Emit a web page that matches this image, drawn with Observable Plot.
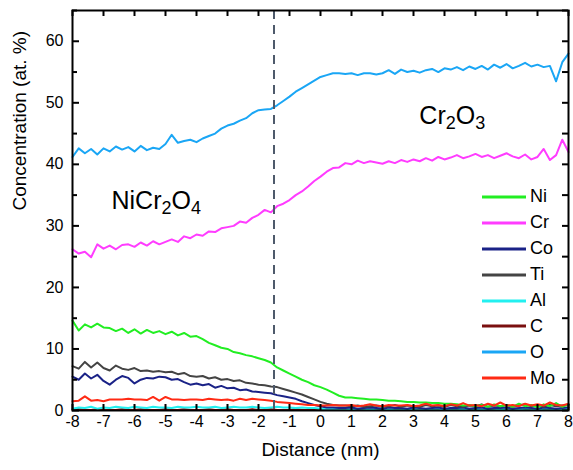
<!DOCTYPE html>
<html>
<head>
<meta charset="utf-8">
<script src="https://cdn.jsdelivr.net/npm/d3@7"></script>
<script src="https://cdn.jsdelivr.net/npm/@observablehq/plot@0.6"></script>
<style>
  html, body { margin: 0; padding: 0; background: white; }
  #wrap { position: relative; width: 573px; height: 470px; font-family: "Liberation Sans", Arial, sans-serif; }
  #legend { position: absolute; left: 482px; top: 184px; font-size: 18px; color: black; }
  #legend .row { height: 25.9px; display: flex; align-items: center; }
  #legend svg { width: 44px; height: 6px; margin-right: 4px; }
</style>
</head>
<body>
<div id="wrap"><div id="legend"></div></div>
<script>
// ---- Data ----
const distance = [
  -8.0,-7.8,-7.6,-7.4,-7.2,-7.0,-6.8,-6.6,-6.4,-6.2,
  -6.0,-5.8,-5.6,-5.4,-5.2,-5.0,-4.8,-4.6,-4.4,-4.2,
  -4.0,-3.8,-3.6,-3.4,-3.2,-3.0,-2.8,-2.6,-2.4,-2.2,
  -2.0,-1.8,-1.6,-1.4,-1.2,-1.0,-0.8,-0.6,-0.4,-0.2,
   0.0, 0.2, 0.4, 0.6, 0.8, 1.0, 1.2, 1.4, 1.6, 1.8,
   2.0, 2.2, 2.4, 2.6, 2.8, 3.0, 3.2, 3.4, 3.6, 3.8,
   4.0, 4.2, 4.4, 4.6, 4.8, 5.0, 5.2, 5.4, 5.6, 5.8,
   6.0, 6.2, 6.4, 6.6, 6.8, 7.0, 7.2, 7.4, 7.6, 7.8,
   8.0
];
const O = [
  41.2,42.6,41.8,42.5,41.6,42.6,42.1,42.9,42.4,42.8,
  42.1,43.0,42.3,42.7,42.5,43.3,44.8,43.5,43.8,44.0,
  43.6,44.2,44.6,45.0,45.8,46.3,46.6,47.1,47.5,48.3,
  48.8,48.9,49.0,49.6,50.3,51.0,51.8,52.4,53.0,53.6,
  54.2,54.5,54.8,54.8,54.7,54.8,54.5,54.8,54.8,54.6,
  54.8,55.3,54.7,55.4,55.0,55.2,54.9,55.3,55.5,55.0,
  55.6,55.4,55.8,55.3,55.9,55.5,56.0,55.4,56.2,55.7,
  56.3,55.6,56.0,56.5,55.9,56.2,55.8,56.0,53.5,56.6,
  58.0
];
const Cr = [
  26.2,25.5,25.8,24.9,27.0,26.3,26.8,26.2,26.9,27.0,
  26.6,27.3,26.8,27.5,27.0,27.4,27.8,27.4,28.3,28.0,
  28.6,28.4,29.1,29.0,29.6,29.8,30.0,30.7,30.5,31.3,
  31.8,32.6,32.2,33.2,33.6,34.2,35.0,35.6,36.4,37.3,
  38.0,38.8,39.4,39.5,40.2,40.0,40.6,40.2,40.5,40.3,
  40.1,40.5,40.2,40.7,40.4,40.8,40.5,41.0,40.6,41.2,
  40.8,41.1,41.5,41.0,41.3,41.7,41.2,41.5,41.0,41.4,
  41.8,41.3,41.0,41.6,40.8,41.2,42.5,40.7,41.5,44.0,
  42.0
];
const Ni = [
  14.6,13.0,14.0,13.5,14.1,13.5,13.4,12.9,13.3,12.6,
  13.2,12.5,13.1,12.6,12.9,12.4,12.8,12.2,12.6,12.0,
  12.1,11.6,11.0,10.6,10.2,10.0,9.5,9.3,9.0,8.8,
  8.5,8.2,7.8,7.0,6.5,6.0,5.5,5.0,4.6,4.1,
  3.8,3.4,2.9,2.4,2.1,2.1,2.0,1.9,1.8,1.8,
  1.7,1.6,1.6,1.5,1.4,1.4,1.3,1.3,1.2,1.2,
  1.1,1.1,1.0,0.8,0.9,0.7,0.9,0.6,1.0,0.7,
  0.9,0.6,1.1,0.7,0.9,0.5,1.0,0.7,1.2,0.6,
  1.0
];
const Ti = [
  7.2,6.8,7.9,7.0,7.8,6.9,6.5,7.3,6.8,6.6,
  6.9,6.4,6.5,6.3,6.4,6.2,6.3,5.9,6.1,5.6,
  5.5,5.6,5.2,5.4,5.0,5.1,4.8,4.9,4.5,4.4,
  4.2,4.1,3.9,3.8,3.5,3.2,2.9,2.6,2.2,1.8,
  1.4,1.1,0.9,0.8,0.8,0.7,0.8,0.6,0.7,0.8,
  0.6,0.7,0.9,0.6,0.8,0.7,0.6,0.9,0.7,0.8,
  0.6,0.9,0.7,0.6,0.8,0.7,1.0,0.6,0.8,0.7,
  0.9,0.6,0.8,1.0,0.7,0.8,0.6,0.9,0.7,0.8,
  0.9
];
const Co = [
  5.5,5.0,6.0,5.2,5.8,4.8,4.2,5.0,5.6,5.3,
  4.4,5.0,5.3,5.2,5.5,5.4,5.0,5.1,4.6,4.2,
  4.4,4.1,4.3,3.7,4.0,3.6,3.7,3.3,3.4,3.1,
  3.0,2.9,2.8,2.5,2.3,2.1,1.9,1.5,1.2,0.9,
  0.7,0.5,0.5,0.4,0.4,0.5,0.3,0.4,0.5,0.4,
  0.3,0.5,0.4,0.4,0.3,0.5,0.4,0.3,0.4,0.5,
  0.3,0.4,0.4,0.5,0.3,0.4,0.5,0.3,0.4,0.4,
  0.5,0.3,0.4,0.5,0.4,0.3,0.5,0.4,0.3,0.4,
  0.5
];
const Mo = [
  1.5,1.6,2.3,1.6,1.7,1.5,1.8,1.8,1.8,1.9,
  1.8,1.8,1.7,2.2,1.6,2.2,1.8,1.8,1.7,1.8,
  1.8,1.7,1.9,1.8,1.7,1.8,1.6,1.9,1.7,1.9,
  1.8,1.7,1.6,1.4,1.3,1.2,1.1,1.0,0.9,0.9,
  0.8,0.8,0.9,0.8,0.8,0.9,0.7,0.8,1.0,0.8,
  0.7,0.9,0.8,0.8,0.9,0.7,0.8,1.1,0.8,0.9,
  0.7,1.0,0.8,1.2,0.8,0.9,0.7,1.1,0.8,1.3,
  0.8,0.9,0.7,1.1,0.8,1.0,0.8,1.3,0.9,0.8,
  1.1
];
const Al = [
  0.3,0.5,0.4,0.6,0.3,0.5,0.4,0.6,0.5,0.4,
  0.6,0.5,0.4,0.6,0.5,0.5,0.4,0.6,0.5,0.5,
  0.6,0.5,0.5,0.6,0.4,0.5,0.6,0.5,0.5,0.6,
  0.5,0.4,0.5,0.6,0.5,0.5,0.4,0.5,0.4,0.4,
  0.3,0.3,0.3,0.3,0.3,0.2,0.3,0.3,0.2,0.3,
  0.3,0.2,0.3,0.3,0.2,0.3,0.3,0.2,0.3,0.3,
  0.2,0.3,0.3,0.2,0.3,0.3,0.2,0.3,0.3,0.2,
  0.3,0.3,0.2,0.3,0.3,0.2,0.3,0.3,0.2,0.3,
  0.3
];
const C = [
  0.1,0.2,0.1,0.1,0.2,0.1,0.1,0.1,0.2,0.1,
  0.1,0.2,0.1,0.1,0.1,0.2,0.1,0.1,0.2,0.1,
  0.1,0.1,0.2,0.1,0.1,0.2,0.1,0.1,0.1,0.2,
  0.1,0.1,0.2,0.1,0.1,0.1,0.2,0.1,0.1,0.1,
  0.1,0.1,0.1,0.2,0.1,0.1,0.1,0.1,0.2,0.1,
  0.1,0.1,0.1,0.1,0.2,0.1,0.1,0.1,0.1,0.1,
  0.2,0.1,0.1,0.1,0.1,0.2,0.1,0.1,0.1,0.1,
  0.1,0.2,0.1,0.1,0.1,0.1,0.2,0.1,0.1,0.1,
  0.1
];

const legendOrder = ["Ni", "Cr", "Co", "Ti", "Al", "C", "O", "Mo"];
const colors = ["#22ee22", "#ff3cff", "#1a2287", "#444444", "#22f0f0", "#7a0f0f", "#1aa6f5", "#ff2a14"];
const drawOrder = ["C", "Al", "Co", "Ti", "Ni", "Mo", "Cr", "O"];
const seriesValues = {Ni, Cr, Co, Ti, Al, C, O, Mo};

const xTicks = [-8,-7,-6,-5,-4,-3,-2,-1,0,1,2,3,4,5,6,7,8];
const yTicks = [0,10,20,30,40,50,60];
const yMinorTicks = [5,15,25,35,45,55,65];
const interfaceX = [-1.5];
const phaseLabels = [
  {x: -5.3, y: 34, label: "NiCr2O4"},
  {x: 4.25, y: 47.8, label: "Cr2O3"}
];

// ---- Build rows ----
const rows = drawOrder.flatMap(s => seriesValues[s].map((v, i) => ({x: distance[i], y: v, s})));

const font = '"Liberation Sans", Arial, sans-serif';
const fmt = d => String(d);

const W = 573, H = 470, ML = 72, MR = 5, MT = 10, MB = 60;
const frameW = W - ML - MR, frameH = H - MT - MB;
const tickStyle = {stroke: "black", strokeWidth: 2};

const chart = Plot.plot({
  width: W,
  height: H,
  marginLeft: ML,
  marginRight: MR,
  marginTop: MT,
  marginBottom: MB,
  style: {fontFamily: font, fontSize: "16px", color: "black", background: "white"},
  x: {domain: [-8, 8]},
  y: {domain: [0, 65]},
  color: {domain: legendOrder, range: colors},
  marks: [
    Plot.line(rows, {x: "x", y: "y", z: "s", stroke: "s", strokeWidth: 2}),
    Plot.ruleX(interfaceX, {stroke: "#4e5a6b", strokeWidth: 2, strokeDasharray: "9,6"}),
    Plot.text(phaseLabels, {x: "x", y: "y", text: "label", fontSize: 25, fill: "black"}),
    // inward ticks
    Plot.tickX(xTicks, {x: d => d, insetTop: frameH - 6, ...tickStyle}),
    Plot.tickX(xTicks, {x: d => d, insetBottom: frameH - 6, ...tickStyle}),
    Plot.tickY(yTicks, {y: d => d, insetRight: frameW - 7, ...tickStyle}),
    Plot.tickY(yMinorTicks, {y: d => d, insetRight: frameW - 5, ...tickStyle}),
    Plot.tickY(yTicks.concat(yMinorTicks), {y: d => d, insetLeft: frameW - 6, ...tickStyle}),
    Plot.frame({stroke: "black", strokeWidth: 2}),
    Plot.axisX(xTicks, {anchor: "bottom", tickSize: 0, tickPadding: 5, tickFormat: fmt, fontSize: 16, label: null}),
    Plot.axisY(yTicks, {anchor: "left", tickSize: 0, tickPadding: 9, tickFormat: fmt, fontSize: 16, label: null}),
    Plot.text(["Distance (nm)"], {frameAnchor: "bottom", dy: 45, fontSize: 19, fill: "black"}),
    Plot.text(["Concentration (at. %)"], {frameAnchor: "left", rotate: -90, dx: -53, fontSize: 19, fill: "black"})
  ]
});

// Subscript digits in the phase labels
const NS = "http://www.w3.org/2000/svg";
chart.querySelectorAll("text").forEach(t => {
  const s = t.textContent;
  if (!phaseLabels.some(p => p.label === s)) return;
  t.textContent = "";
  let sub = false;
  for (const ch of s) {
    const isDigit = /\d/.test(ch);
    const ts = document.createElementNS(NS, "tspan");
    ts.textContent = ch;
    if (isDigit) ts.setAttribute("font-size", "18");
    if (isDigit !== sub) { ts.setAttribute("dy", isDigit ? "5" : "-5"); sub = isDigit; }
    t.appendChild(ts);
  }
});

const wrap = document.getElementById("wrap");
wrap.insertBefore(chart, wrap.firstChild);

// Legend
const legend = document.getElementById("legend");
legendOrder.forEach((name, i) => {
  const row = document.createElement("div");
  row.className = "row";
  row.innerHTML = `<svg viewBox="0 0 44 6"><line x1="0" x2="44" y1="3" y2="3" stroke="${colors[i]}" stroke-width="3"/></svg><span>${name}</span>`;
  legend.appendChild(row);
});
</script>
</body>
</html>
